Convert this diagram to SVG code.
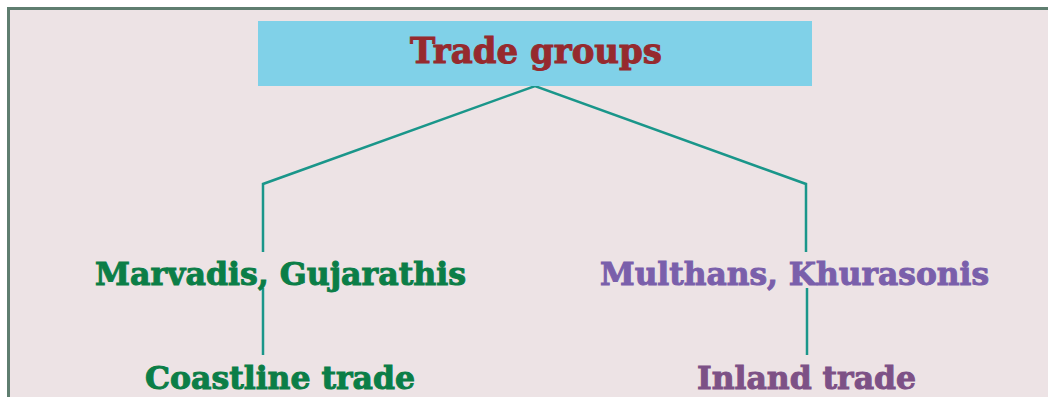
<svg xmlns="http://www.w3.org/2000/svg" width="1048" height="397" viewBox="0 0 1048 397">
<style>
.lbl{font-family:"DejaVu Serif","Liberation Serif",serif;font-weight:bold;stroke-width:1;}
.conn{fill:none;stroke:#1A968A;stroke-width:2.5;}
</style>
<rect x="0" y="0" width="1048" height="397" fill="#ffffff"/>
<rect id="frame" x="8.5" y="8.5" width="1060" height="420" fill="#EDE3E5" stroke="#5F7E70" stroke-width="3"/>
<g id="connectors">
<polyline class="conn" points="263,252 263,184 535,86 806,184 806,252"/>
<line class="conn" x1="263" y1="288" x2="263" y2="355"/>
<line class="conn" x1="807" y1="288" x2="807" y2="355"/>
</g>
<g id="trade-groups">
<rect x="258" y="21" width="554" height="65" fill="#80D1E8"/>
<text class="lbl" x="410" y="63" font-size="36" fill="#962A2E" stroke="#962A2E" textLength="252" lengthAdjust="spacingAndGlyphs">Trade groups</text>
</g>
<g id="marvadis">
<text class="lbl" x="95" y="285" font-size="32" fill="#0B7E47" stroke="#0B7E47" textLength="371" lengthAdjust="spacingAndGlyphs">Marvadis, Gujarathis</text>
</g>
<g id="multhans">
<text class="lbl" x="600" y="285" font-size="32" fill="#7A5FAB" stroke="#7A5FAB" textLength="389" lengthAdjust="spacingAndGlyphs">Multhans, Khurasonis</text>
</g>
<g id="coastline">
<text class="lbl" x="145" y="389" font-size="32" fill="#0B7E47" stroke="#0B7E47" textLength="270" lengthAdjust="spacingAndGlyphs">Coastline trade</text>
</g>
<g id="inland">
<text class="lbl" x="697" y="389" font-size="32" fill="#7D5186" stroke="#7D5186" textLength="219" lengthAdjust="spacingAndGlyphs">Inland trade</text>
</g>
</svg>
